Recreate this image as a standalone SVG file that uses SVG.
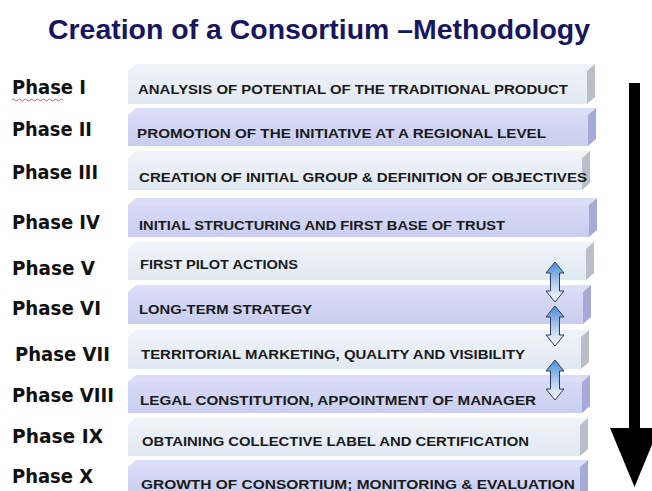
<svg xmlns="http://www.w3.org/2000/svg" width="652" height="491" viewBox="0 0 652 491">
  <defs>
    <style>
      .title { font-family: "Liberation Sans", Arial, sans-serif; font-weight: bold; font-size: 28px; fill: #161660; }
      .phase { font-family: "DejaVu Sans", "Liberation Sans", sans-serif; font-weight: bold; font-size: 19.5px; fill: #111111; }
      .step { font-family: "Liberation Sans", Arial, sans-serif; font-weight: bold; font-size: 13.5px; fill: #1a1a1a; }
      .lt .front { fill: url(#gLight); }
      .lt .top { fill: #eef3f9; }
      .lt .side { fill: #b9bec8; }
      .lv .front { fill: url(#gLav); }
      .lv .top { fill: #dadef7; }
      .lv .side { fill: #a6aad6; }
      .dbl { fill: url(#gDbl); stroke: #2f3b58; stroke-width: 1; }
    </style>
    <linearGradient id="gLight" x1="0" y1="0" x2="0" y2="1">
      <stop offset="0" stop-color="#ecf2f8"/>
      <stop offset="1" stop-color="#e0e8f1"/>
    </linearGradient>
    <linearGradient id="gLav" x1="0" y1="0" x2="0" y2="1">
      <stop offset="0" stop-color="#d7dbf6"/>
      <stop offset="1" stop-color="#c9ceef"/>
    </linearGradient>
    <linearGradient id="gDbl" x1="0" y1="0" x2="0" y2="1">
      <stop offset="0" stop-color="#4a8ad8"/>
      <stop offset="0.55" stop-color="#b5d0f0"/>
      <stop offset="1" stop-color="#ffffff"/>
    </linearGradient>
    <!-- two-headed arrow, 40px tall, centred on x=0 -->
    <path id="dblArrow" class="dbl" d="M0 0 L9 11 L4.5 11 L4.5 29 L9 29 L0 40 L-9 29 L-4.5 29 L-4.5 11 L-9 11 Z"/>
  </defs>

  <rect width="652" height="491" fill="#ffffff"/>

  <text class="title" x="48" y="39" textLength="542" lengthAdjust="spacingAndGlyphs">Creation of a Consortium –Methodology</text>

  <!-- Phase I -->
  <g id="phase1" class="lt">
    <polygon class="top" points="128,71 136,64 595,64 587,71"/>
    <rect class="front" x="128" y="71" width="459" height="33"/>
    <polygon class="side" points="587,71 595,64 595,97 587,104"/>
    <text class="phase" x="12" y="94" textLength="74" lengthAdjust="spacingAndGlyphs">Phase I</text>
    <path d="M12 100 q1.5 -2 3 0 t3 0 t3 0 t3 0 t3 0 t3 0 t3 0 t3 0 t3 0 t3 0 t3 0 t3 0 t3 0 t3 0 t3 0 t3 0 t3 0" fill="none" stroke="#d23a3a" stroke-width="0.8"/>
    <text class="step" x="138" y="94" textLength="430" lengthAdjust="spacingAndGlyphs">ANALYSIS OF POTENTIAL OF THE TRADITIONAL PRODUCT</text>
  </g>

  <!-- Phase II -->
  <g id="phase2" class="lv">
    <polygon class="top" points="128,115 136,108 596,108 588,115"/>
    <rect class="front" x="128" y="115" width="460" height="31"/>
    <polygon class="side" points="588,115 596,108 596,139 588,146"/>
    <text class="phase" x="12" y="136" textLength="80" lengthAdjust="spacingAndGlyphs">Phase II</text>
    <text class="step" x="137" y="138" textLength="409" lengthAdjust="spacingAndGlyphs">PROMOTION OF THE INITIATIVE AT A REGIONAL LEVEL</text>
  </g>

  <!-- Phase III -->
  <g id="phase3" class="lt">
    <polygon class="top" points="128,158 136,151 590,151 582,158"/>
    <rect class="front" x="128" y="158" width="454" height="32"/>
    <polygon class="side" points="582,158 590,151 590,183 582,190"/>
    <text class="phase" x="12" y="179" textLength="86" lengthAdjust="spacingAndGlyphs">Phase III</text>
    <text class="step" x="139" y="182" textLength="448" lengthAdjust="spacingAndGlyphs">CREATION OF INITIAL GROUP &amp; DEFINITION OF OBJECTIVES</text>
  </g>

  <!-- Phase IV -->
  <g id="phase4" class="lv">
    <polygon class="top" points="128,205 136,198 597,198 589,205"/>
    <rect class="front" x="128" y="205" width="461" height="32"/>
    <polygon class="side" points="589,205 597,198 597,230 589,237"/>
    <text class="phase" x="12" y="229" textLength="88" lengthAdjust="spacingAndGlyphs">Phase IV</text>
    <text class="step" x="139" y="230" textLength="366" lengthAdjust="spacingAndGlyphs">INITIAL STRUCTURING AND FIRST BASE OF TRUST</text>
  </g>

  <!-- Phase V -->
  <g id="phase5" class="lt">
    <polygon class="top" points="128,249 136,242 594,242 586,249"/>
    <rect class="front" x="128" y="249" width="458" height="31"/>
    <polygon class="side" points="586,249 594,242 594,273 586,280"/>
    <text class="phase" x="12" y="275" textLength="83" lengthAdjust="spacingAndGlyphs">Phase V</text>
    <text class="step" x="140" y="269" textLength="158" lengthAdjust="spacingAndGlyphs">FIRST PILOT ACTIONS</text>
  </g>

  <!-- Phase VI -->
  <g id="phase6" class="lv">
    <polygon class="top" points="128,292 136,285 591,285 583,292"/>
    <rect class="front" x="128" y="292" width="455" height="32"/>
    <polygon class="side" points="583,292 591,285 591,317 583,324"/>
    <text class="phase" x="12" y="315" textLength="89" lengthAdjust="spacingAndGlyphs">Phase VI</text>
    <text class="step" x="139" y="314" textLength="173" lengthAdjust="spacingAndGlyphs">LONG-TERM STRATEGY</text>
  </g>

  <!-- Phase VII -->
  <g id="phase7" class="lt">
    <polygon class="top" points="128,337 136,330 589,330 581,337"/>
    <rect class="front" x="128" y="337" width="453" height="32"/>
    <polygon class="side" points="581,337 589,330 589,362 581,369"/>
    <text class="phase" x="15" y="361" textLength="95" lengthAdjust="spacingAndGlyphs">Phase VII</text>
    <text class="step" x="141" y="359" textLength="384" lengthAdjust="spacingAndGlyphs">TERRITORIAL MARKETING, QUALITY AND VISIBILITY</text>
  </g>

  <!-- Phase VIII -->
  <g id="phase8" class="lv">
    <polygon class="top" points="128,382 136,375 590,375 582,382"/>
    <rect class="front" x="128" y="382" width="454" height="31"/>
    <polygon class="side" points="582,382 590,375 590,406 582,413"/>
    <text class="phase" x="12" y="402" textLength="102" lengthAdjust="spacingAndGlyphs">Phase VIII</text>
    <text class="step" x="140" y="405" textLength="396" lengthAdjust="spacingAndGlyphs">LEGAL CONSTITUTION, APPOINTMENT OF MANAGER</text>
  </g>

  <!-- Phase IX -->
  <g id="phase9" class="lt">
    <polygon class="top" points="128,425 136,418 588,418 580,425"/>
    <rect class="front" x="128" y="425" width="452" height="31"/>
    <polygon class="side" points="580,425 588,418 588,449 580,456"/>
    <text class="phase" x="12" y="443" textLength="91" lengthAdjust="spacingAndGlyphs">Phase IX</text>
    <text class="step" x="142" y="446" textLength="387" lengthAdjust="spacingAndGlyphs">OBTAINING COLLECTIVE LABEL AND CERTIFICATION</text>
  </g>

  <!-- Phase X -->
  <g id="phase10" class="lv">
    <polygon class="top" points="128,467 136,460 588,460 580,467"/>
    <rect class="front" x="128" y="467" width="452" height="30"/>
    <polygon class="side" points="580,467 588,460 588,491 580,497"/>
    <text class="phase" x="12" y="483" textLength="81" lengthAdjust="spacingAndGlyphs">Phase X</text>
    <text class="step" x="141" y="489" textLength="434" lengthAdjust="spacingAndGlyphs">GROWTH OF CONSORTIUM; MONITORING &amp; EVALUATION</text>
  </g>

  <!-- connectors: two-way links between phases V–VIII and the overall progression arrow -->
  <g id="connectors">
    <use href="#dblArrow" x="555" y="262"/>
    <use href="#dblArrow" x="555" y="306"/>
    <use href="#dblArrow" x="555" y="360"/>
    <rect x="629" y="83" width="11" height="346" fill="#000000"/>
    <polygon points="610,428 659,428 634.5,487" fill="#000000"/>
  </g>
</svg>
